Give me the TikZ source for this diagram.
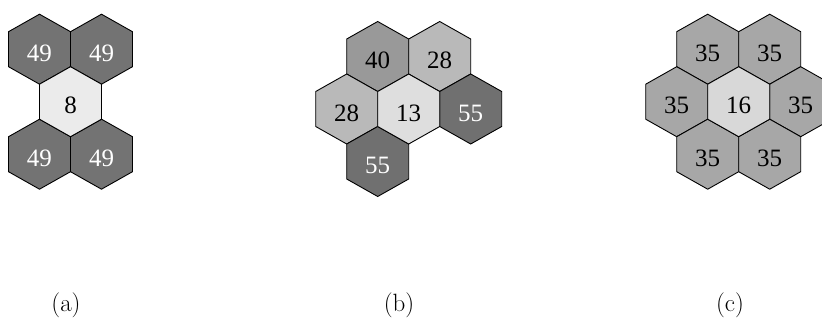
\documentclass[tikz,border=0pt]{standalone}
\usepackage{fontspec}
\newfontfamily\numfont{Liberation Serif}
\definecolor{g8}{RGB}{235,235,235}
\definecolor{g13}{RGB}{222,222,222}
\definecolor{g16}{RGB}{216,216,216}
\definecolor{g28}{RGB}{185,185,185}
\definecolor{g35}{RGB}{167,167,167}
\definecolor{g40}{RGB}{153,153,153}
\definecolor{g49}{RGB}{115,115,115}
\definecolor{g55}{RGB}{112,112,112}
\newcommand{\hexcell}[6]{%
  \path[hexline, fill=#4, shift={(#2,#3)}] (0,-35) -- (31,-17.5) -- (31,17.5) -- (0,35) -- (-31,17.5) -- (-31,-17.5) -- cycle;
  \node[#5] (#1) at (#2,#3+4) {#6};}
\begin{document}
\begin{tikzpicture}[x=1pt,y=-1pt,
  hexline/.style={draw=black,line width=0.9pt,line join=miter},
  num/.style={font=\numfont\fontsize{25}{30}\selectfont,inner sep=0pt},
  numw/.style={num,text=white},
  numb/.style={num,text=black},
  sub/.style={font=\fontsize{25}{30}\selectfont,anchor=base,inner sep=0pt}]
\useasboundingbox (0,0) rectangle (822,324);
\clip (0,0) rectangle (822,324);
% (a)
\hexcell{a1}{39.5}{49.2}{g49}{numw}{49}
\hexcell{a2}{101.5}{49.2}{g49}{numw}{49}
\hexcell{a3}{39.5}{154.2}{g49}{numw}{49}
\hexcell{a4}{101.5}{154.2}{g49}{numw}{49}
\hexcell{a0}{70.5}{101.7}{g8}{numb}{8}
% (b)
\hexcell{b1}{377.7}{56.5}{g40}{numb}{40}
\hexcell{b2}{439.7}{56.5}{g28}{numb}{28}
\hexcell{b3}{346.7}{109}{g28}{numb}{28}
\hexcell{b4}{470.7}{109}{g55}{numw}{55}
\hexcell{b5}{377.7}{161.5}{g55}{numw}{55}
\hexcell{b0}{408.7}{109}{g13}{numb}{13}
% (c)
\hexcell{c1}{707.7}{49.2}{g35}{numb}{35}
\hexcell{c2}{769.7}{49.2}{g35}{numb}{35}
\hexcell{c3}{676.7}{101.7}{g35}{numb}{35}
\hexcell{c4}{800.7}{101.7}{g35}{numb}{35}
\hexcell{c5}{707.7}{154.2}{g35}{numb}{35}
\hexcell{c6}{769.7}{154.2}{g35}{numb}{35}
\hexcell{c0}{738.7}{101.7}{g16}{numb}{16}
% labels
\node[sub] (la) at (66,311.75) {(a)};
\node[sub] (lb) at (399,311.75) {(b)};
\node[sub] (lc) at (730,311.75) {(c)};
\end{tikzpicture}
\end{document}
